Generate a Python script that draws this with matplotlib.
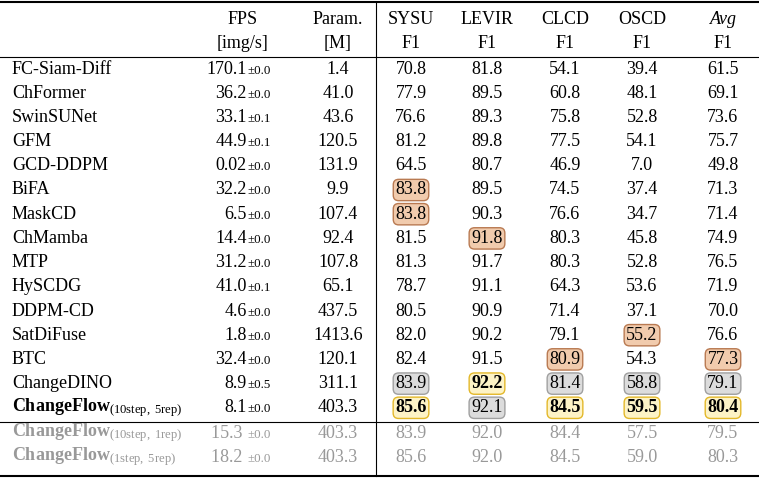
import matplotlib.pyplot as plt

plt.rcParams['font.family'] = ['Liberation Serif', 'DejaVu Serif']
plt.rcParams['mathtext.fontset'] = 'custom'
plt.rcParams['mathtext.rm'] = 'Liberation Serif'
plt.rcParams['mathtext.bf'] = 'Liberation Serif:bold'
plt.rcParams['mathtext.it'] = 'Liberation Serif:italic'

methods = ["FC-Siam-Diff", "ChFormer", "SwinSUNet", "GFM", "GCD-DDPM", "BiFA",
           "MaskCD", "ChMamba", "MTP", "HySCDG", "DDPM-CD", "SatDiFuse", "BTC",
           "ChangeDINO", "ChangeFlow", "ChangeFlow", "ChangeFlow"]
subs = [""] * 14 + ["(10step, 5rep)", "(10step, 1rep)", "(1step, 5rep)"]
fps = ["170.1", "36.2", "33.1", "44.9", "0.02", "32.2", "6.5", "14.4", "31.2",
       "41.0", "4.6", "1.8", "32.4", "8.9", "8.1", "15.3 ", "18.2 "]
fps_std = ["0.0", "0.0", "0.1", "0.1", "0.0", "0.0", "0.0", "0.0", "0.0",
           "0.1", "0.0", "0.0", "0.0", "0.5", "0.0", "0.0", "0.0"]
params = ["1.4", "41.0", "43.6", "120.5", "131.9", "9.9", "107.4", "92.4", "107.8",
          "65.1", "437.5", "1413.6", "120.1", "311.1", "403.3", "403.3", "403.3"]
sysu = [70.8, 77.9, 76.6, 81.2, 64.5, 83.8, 83.8, 81.5, 81.3, 78.7, 80.5, 82.0, 82.4, 83.9, 85.6, 83.9, 85.6]
levir = [81.8, 89.5, 89.3, 89.8, 80.7, 89.5, 90.3, 91.8, 91.7, 91.1, 90.9, 90.2, 91.5, 92.2, 92.1, 92.0, 92.0]
clcd = [54.1, 60.8, 75.8, 77.5, 46.9, 74.5, 76.6, 80.3, 80.3, 64.3, 71.4, 79.1, 80.9, 81.4, 84.5, 84.4, 84.5]
oscd = [39.4, 48.1, 52.8, 54.1, 7.0, 37.4, 34.7, 45.8, 52.8, 53.6, 37.1, 55.2, 54.3, 58.8, 59.5, 57.5, 59.0]
avg = [61.5, 69.1, 73.6, 75.7, 49.8, 71.3, 71.4, 74.9, 76.5, 71.9, 70.0, 76.6, 77.3, 79.1, 80.4, 79.5, 80.3]
# highlight marks: (row, column) -> 'gold' / 'silver' / 'bronze'
marks = {(5, 0): 'bronze', (6, 0): 'bronze', (7, 1): 'bronze', (12, 2): 'bronze',
         (11, 3): 'bronze', (12, 4): 'bronze',
         (13, 0): 'silver', (13, 1): 'gold', (13, 2): 'silver', (13, 3): 'silver', (13, 4): 'silver',
         (14, 0): 'gold', (14, 1): 'silver', (14, 2): 'gold', (14, 3): 'gold', (14, 4): 'gold'}
styles = {'gold': ('#fdf3c6', '#e3b82a', 'bold'),
          'silver': ('#dcdcdc', '#a0a0a0', 'normal'),
          'bronze': ('#f1cbad', '#b97a52', 'normal')}

fig = plt.figure(figsize=(7.59, 4.78), dpi=100)
ax = fig.add_axes([0, 0, 1, 1])
ax.set_xlim(0, 759)
ax.set_ylim(478, 0)
ax.axis('off')

fs = 13
metric_x = [411, 487, 565, 642, 723]
# header
ax.text(243, 19, "FPS", ha='center', va='center', fontsize=fs)
ax.text(243, 43, "[img/s]", ha='center', va='center', fontsize=fs)
ax.text(338, 19, "Param.", ha='center', va='center', fontsize=fs)
ax.text(338, 43, "[M]", ha='center', va='center', fontsize=fs)
for x, name in zip(metric_x, ["SYSU", "LEVIR", "CLCD", "OSCD", "Avg"]):
    ax.text(x, 19, name, ha='center', va='center', fontsize=fs,
            style='italic' if name == "Avg" else 'normal')
    ax.text(x, 43, "F1", ha='center', va='center', fontsize=fs)

ax.plot([0, 759], [1.5, 1.5], color='black', lw=1.5)
ax.plot([0, 759], [57, 57], color='black', lw=0.8)
ax.plot([0, 759], [422, 422], color='black', lw=0.8)
ax.plot([0, 759], [476, 476], color='black', lw=1.5)
ax.plot([376, 376], [1.5, 476], color='black', lw=0.8)

cols = [sysu, levir, clcd, oscd, avg]
for i in range(len(methods)):
    y = 69 + i * 24.2 if i < 15 else 433 + (i - 15) * 24
    color = 'black' if i < 15 else '#999999'
    if subs[i]:
        label = r"$\mathbf{%s}_{\mathrm{%s}}$" % (methods[i], subs[i].replace(' ', r'\ '))
    else:
        label = methods[i]
    ax.text(12, y, label, ha='left', va='center', fontsize=fs, color=color)
    ax.text(247, y, fps[i], ha='right', va='center', fontsize=fs, color=color)
    ax.text(247, y + 1.5, "±" + fps_std[i], ha='left', va='center', fontsize=fs * 0.72, color=color)
    ax.text(338, y, params[i], ha='center', va='center', fontsize=fs, color=color)
    for j, (x, values) in enumerate(zip(metric_x, cols)):
        kw = {}
        weight = 'normal'
        if (i, j) in marks:
            fc, ec, weight = styles[marks[(i, j)]]
            kw['bbox'] = dict(boxstyle='round,pad=0.12,rounding_size=0.3', fc=fc, ec=ec, lw=1)
        ax.text(x, y, f"{values[i]:.1f}", ha='center', va='center', fontsize=fs,
                color=color, fontweight=weight, **kw)

fig.savefig("out.png", dpi=100)
